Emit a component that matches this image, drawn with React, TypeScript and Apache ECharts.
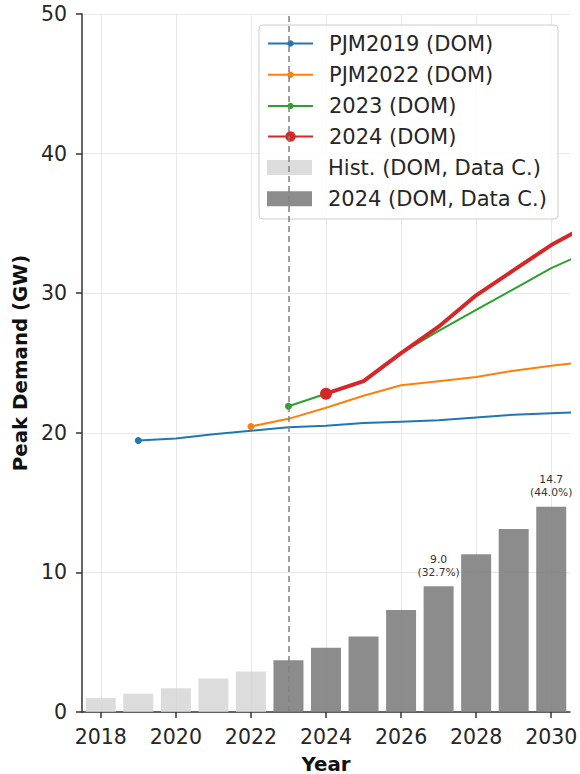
import React, { useEffect, useRef } from 'react';
import * as echarts from 'echarts';

// ---- data ----
const histYears = [2018, 2019, 2020, 2021, 2022];
const histValues = [1.0, 1.3, 1.7, 2.4, 2.9];

const dcYears = [2023, 2024, 2025, 2026, 2027, 2028, 2029, 2030];
const dcValues = [3.7, 4.6, 5.4, 7.3, 9.0, 11.3, 13.1, 14.7];
const dcLabelYears = [2027, 2030];
const dcLabelShares = [32.7, 44.0];

const pjm2019Years = [2019, 2020, 2021, 2022, 2023, 2024, 2025, 2026, 2027, 2028, 2029, 2030, 2031];
const pjm2019Values = [19.45, 19.6, 19.9, 20.15, 20.4, 20.5, 20.7, 20.8, 20.9, 21.1, 21.3, 21.4, 21.5];

const pjm2022Years = [2022, 2023, 2024, 2025, 2026, 2027, 2028, 2029, 2030, 2031];
const pjm2022Values = [20.45, 21.0, 21.8, 22.65, 23.4, 23.7, 24.0, 24.45, 24.8, 25.1];

const f2023Years = [2023, 2024, 2025, 2026, 2027, 2028, 2029, 2030, 2031];
const f2023Values = [21.9, 22.8, 23.7, 25.7, 27.3, 28.8, 30.3, 31.8, 33.0];

const f2024Years = [2024, 2025, 2026, 2027, 2028, 2029, 2030, 2031];
const f2024Values = [22.8, 23.7, 25.7, 27.6, 29.85, 31.65, 33.45, 34.9];

const xTickYears = [2018, 2020, 2022, 2024, 2026, 2028, 2030];
const dividerYear = 2023;

const FONT = 'DejaVu Sans';

function lineData(years: number[], values: number[], size: number) {
  return years.map((y, i) =>
    i === 0
      ? { value: [y, values[i]], symbol: 'circle', symbolSize: size }
      : { value: [y, values[i]], symbol: 'none' }
  );
}

export default function App() {
  const ref = useRef<HTMLDivElement>(null);

  useEffect(() => {
    if (!ref.current) return;
    const chart = echarts.init(ref.current, null, { renderer: 'svg' });

    const legendText = {
      fontSize: 21,
      lineHeight: 21,
      color: '#262626',
      fontFamily: FONT,
      padding: [0, 0, 0, 11],
    };

    const option: any = {
      animation: false,
      backgroundColor: '#ffffff',
      textStyle: { fontFamily: FONT },
      grid: { left: 82, right: 10, top: 14, bottom: 62, containLabel: false, outerBoundsMode: 'none' },
      xAxis: {
        type: 'value',
        min: 2017.5,
        max: 2030.5,
        name: 'Year',
        nameLocation: 'middle',
        nameGap: 42,
        nameTextStyle: { fontSize: 19.8, fontWeight: 'bold', color: '#111', fontFamily: FONT },
        axisLine: { show: true, lineStyle: { color: '#333', width: 1.5 } },
        axisTick: { show: true, length: 6, customValues: xTickYears, lineStyle: { color: '#333', width: 1.5 } },
        axisLabel: {
          customValues: xTickYears,
          fontSize: 20.5,
          color: '#262626',
          margin: 14,
          fontFamily: FONT,
          formatter: (v: number) => String(v),
        },
        splitLine: { show: true, lineStyle: { color: '#e8e8e8', width: 1 } },
      },
      yAxis: {
        type: 'value',
        min: 0,
        max: 50,
        interval: 10,
        name: 'Peak Demand (GW)',
        nameLocation: 'middle',
        nameGap: 52,
        nameTextStyle: { fontSize: 19.8, fontWeight: 'bold', color: '#111', fontFamily: FONT },
        axisLine: { show: true, lineStyle: { color: '#333', width: 1.5 } },
        axisTick: { show: true, length: 6, lineStyle: { color: '#333', width: 1.5 } },
        axisLabel: { fontSize: 20.5, color: '#262626', margin: 15, fontFamily: FONT },
        splitLine: { show: true, lineStyle: { color: '#e8e8e8', width: 1 } },
      },
      graphic: [
        {
          type: 'rect',
          z: 3,
          shape: { x: 259, y: 25, width: 299, height: 194, r: 4 },
          style: { fill: 'rgba(255,255,255,0.8)', stroke: '#cccccc', lineWidth: 1 },
        },
      ],
      legend: [
        {
          data: ['PJM2019 (DOM)', 'PJM2022 (DOM)', '2023 (DOM)'],
          orient: 'vertical',
          left: 267,
          top: 33,
          padding: 0,
          itemWidth: 45,
          itemHeight: 8,
          itemGap: 10.3,
          selectedMode: false,
          textStyle: legendText,
          z: 5,
        },
        {
          data: ['2024 (DOM)'],
          orient: 'vertical',
          left: 267,
          top: 126,
          padding: 0,
          itemWidth: 45,
          itemHeight: 13,
          itemGap: 10.3,
          selectedMode: false,
          textStyle: legendText,
          z: 5,
        },
        {
          data: [
            { name: 'Hist. (DOM, Data C.)', icon: 'rect' },
            { name: '2024 (DOM, Data C.)', icon: 'rect' },
          ],
          orient: 'vertical',
          left: 267,
          top: 157,
          padding: 0,
          itemWidth: 45,
          itemHeight: 15,
          itemGap: 10.3,
          selectedMode: false,
          textStyle: legendText,
          z: 5,
        },
      ],
      series: [
        {
          name: 'Hist. (DOM, Data C.)',
          type: 'bar',
          barWidth: 30,
          barGap: '-100%',
          itemStyle: { color: 'rgba(211,211,211,0.8)' },
          data: histYears.map((y, i) => [y, histValues[i]]),
        },
        {
          name: '2024 (DOM, Data C.)',
          type: 'bar',
          barWidth: 30,
          barGap: '-100%',
          itemStyle: { color: 'rgba(128,128,128,0.9)' },
          data: dcYears.map((y, i) => {
            const li = dcLabelYears.indexOf(y);
            if (li < 0) return { value: [y, dcValues[i]] };
            return {
              value: [y, dcValues[i]],
              label: {
                show: true,
                position: 'top',
                distance: 8,
                fontSize: 10.7,
                lineHeight: 12.7,
                color: '#333',
                fontFamily: FONT,
                align: 'center',
                formatter: `${dcValues[i].toFixed(1)}\n(${dcLabelShares[li].toFixed(1)}%)`,
              },
            };
          }),
          markLine: {
            silent: true,
            symbol: 'none',
            label: { show: false },
            lineStyle: { color: '#808080', type: [6, 4], width: 1.5 },
            data: [{ xAxis: dividerYear }],
          },
        },
        {
          name: 'PJM2019 (DOM)',
          type: 'line',
          symbol: 'circle',
          symbolSize: 7,
          color: '#1f77b4',
          lineStyle: { width: 2, color: '#1f77b4' },
          itemStyle: { color: '#1f77b4' },
          data: lineData(pjm2019Years, pjm2019Values, 7),
        },
        {
          name: 'PJM2022 (DOM)',
          type: 'line',
          symbol: 'circle',
          symbolSize: 7,
          color: '#ff7f0e',
          lineStyle: { width: 2, color: '#ff7f0e' },
          itemStyle: { color: '#ff7f0e' },
          data: lineData(pjm2022Years, pjm2022Values, 7),
        },
        {
          name: '2023 (DOM)',
          type: 'line',
          symbol: 'circle',
          symbolSize: 7,
          color: '#2ca02c',
          lineStyle: { width: 2, color: '#2ca02c' },
          itemStyle: { color: '#2ca02c' },
          data: lineData(f2023Years, f2023Values, 7),
        },
        {
          name: '2024 (DOM)',
          type: 'line',
          symbol: 'circle',
          symbolSize: 12,
          color: '#d62728',
          lineStyle: { width: 4, color: '#d62728' },
          itemStyle: { color: '#d62728' },
          data: lineData(f2024Years, f2024Values, 12),
        },
      ],
    };

    chart.setOption(option);
    return () => chart.dispose();
  }, []);

  return (
    <div
      ref={ref}
      style={{ position: 'fixed', left: 0, top: 0, width: 580, height: 774, background: '#fff' }}
    />
  );
}
